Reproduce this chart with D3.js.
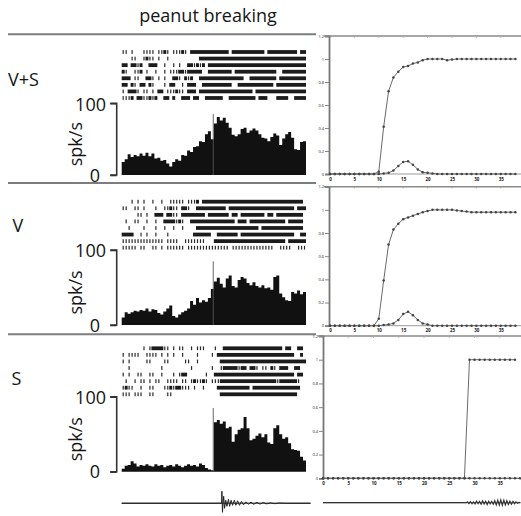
<!DOCTYPE html>
<html>
<head>
<meta charset="utf-8">
<script src="https://cdn.jsdelivr.net/npm/d3@7"></script>
<style>
  body { margin: 0; background: #fff; }
  svg { display: block; }
  text { font-family: "Open Sans", "Noto Sans", sans-serif; fill: #151515; }
</style>
</head>
<body>
<svg id="fig" width="521" height="516"></svg>
<script>
// ---- data ------------------------------------------------------------
const title = "peanut breaking";
const conditions = ["V+S", "V", "S"];

// firing rate histograms (spk/s), 62 bins each
const rateVS = [18,22,29,25,28,26,30,27,31,26, 30,23,24,20,21,16,12,18,22,20,
                28,27,34,32,39,40,47,46,57,61, 50,72,81,76,80,73,66,56,54,57,
                64,66,59,62,65,62,57,52,51,47, 53,58,55,42,51,57,60,52,36,35, 46,47];
const rateV  = [10,17,15,17,19,18,20,19,22,18, 21,20,16,14,18,22,26,12,10,14,
                17,19,22,32,27,36,30,33,31,36, 48,58,63,55,50,62,66,52,50,60,
                64,62,56,53,57,52,50,53,49,50, 47,64,66,42,37,33,32,44,42,46, 41,44];
const rateS  = [4,8,9,14,11,7,9,8,10,8, 7,10,8,9,6,8,9,7,10,8,
                6,8,10,8,9,7,11,9,5,3, 2,66,69,64,67,58,60,40,50,56,
                58,73,58,42,44,48,51,46,50,39, 37,58,62,50,44,46,38,30,29,28, 20,15];
const rateTicks = [0, 100];

// spike rasters, one string per trial, one character per bin
// '#' = burst filling the bin, '|' = single spike, ' ' = silent
const rasterVS = [
  "|| |   |||| ||#| |||#| ############# ########### ########## ##",
  "   ||  |#|| |  |          ####################################",
  "## ##|#  ###  |  | |  ##|#|# ##################################",
  "#|  ||# |  |  | |||##|#####  ######## ##############  ########",
  "### ||  ##| | |  ##| #|#  ###############  ######### #########",
  "## #| ## #|   | ##  | ###  ##########  ############ ##########",
  "| ###| || | ## |||#|| ### ################## #################",
  "|||# ##||#|#  ## #  ### ##  ######  ######### ###   ####  #####"
];
const rasterV = [
  "   | | |  |  |  ||||| |||# ##################################",
  "||  || |   |  ||#|| ##|  ########## ###################### ###",
  "     || |  ### ##|| ######## ####### ## ######## ## #########",
  " |  ||  |  |  ####|#|  ############### ### ############ #####",
  "  |    |   |  |  |  |    ##################### ##############",
  "####  | |  |   |        ######  ####### ##################  ##",
  "|||||||||||||| ||||  |||||||   ######################## ######",
  "||||| ||  || | |||||| |||||||||||||| ||||||||||||||  ||||  |||"
];
const rasterS = [
  "       | |####|| | ||  | |||   |  #################### ##  ## ",
  "| ||||  |||| | | |  |    |    | ##########################  #",
  "| |     ||    ||     ||  |       #############################",
  "  |          |         |      |  |#####|## ##| || #| ###  ##",
  "| |  ||  ||  |   | |##      |  ########################### ##",
  " |  | || | ||  |||| || |#||#| |||###################|######|",
  "|#||  |  ||   ||#|##||| |  |    ########### ################",
  "||| |||  ||    ||                ##########################"
];
const binCount = 62;
const eventBin = 30.8;      // contact / breaking onset
const eventRate = 85;       // height of the onset marker (spk/s)

// cumulative proportion curves (right column), one value per step
const cumVS  = [0,0,0,0,0,0,0,0,0,0, 0.02,0.41,0.72,0.84,0.89,0.93,0.94,0.96,0.97,0.99,
                1,1,1,1,0.99,0.995,1,1,1,1, 1,1,1,1,1,1,1,1,1];
const bumpVS = [0,0,0,0,0,0,0,0,0,0, 0,0.005,0.01,0.03,0.07,0.105,0.11,0.08,0.04,0.015,
                0.01,0.005,0,0,0,0,0,0,0,0, 0,0,0,0,0,0,0,0,0];
const cumV   = [0,0,0,0,0,0,0,0,0,0, 0.06,0.39,0.7,0.83,0.88,0.92,0.935,0.95,0.965,0.98,
                0.99,1,1,1,1,1,0.995,0.99,0.985,0.98, 0.98,0.98,0.98,0.98,0.98,0.98,0.98,0.98,0.98];
const bumpV  = [0,0,0,0,0,0,0,0,0,0, 0,0.005,0.01,0.02,0.05,0.1,0.12,0.09,0.05,0.02,
                0.01,0,0,0,0,0,0,0,0,0, 0,0,0,0,0,0,0,0,0];
const cumS   = [0,0,0,0,0,0,0,0,0,0, 0,0,0,0,0,0,0,0,0,0,
                0,0,0,0,0,0,0,0,0,1, 1,1,1,1,1,1,1,1,1];
const bumpS  = [0,0,0,0,0,0,0,0,0,0, 0,0,0,0,0,0,0,0,0,0,
                0,0,0,0,0,0,0,0,0,0, 0,0,0,0,0,0,0,0,0,0];
const propTicks = [0, 0.2, 0.4, 0.6, 0.8, 1, 1.2];
const propTickLabels = ["0", "0.2", "0.4", "0.6", "0.8", "1", "1.2"];
const stepTicks = [0, 5, 10, 15, 20, 25, 30, 35];

// vibration traces under the S condition: [time, amplitude]
const vibrationLeft = [[0,0],[33.6,0],[33.7,12],[33.9,-9],[34.1,0],[34.3,7],[34.6,-5],[35,3],
  [35.4,-3],[35.9,4],[36.3,-3],[36.8,3],[37.3,-2],[37.9,3],[38.4,-2],[39,2.5],[39.6,-2],
  [40.3,2],[41,-1.5],[41.8,1.5],[42.6,-1],[43.5,1.2],[44.4,-1],[45.5,1],[46.5,-0.8],
  [47.6,0.8],[48.8,-0.6],[50,0.5],[51.5,-0.4],[53,0.3],[55,0],[63.5,0]];
const vibrationRight = [[0,0],[28.4,0],[28.6,0.8],[28.9,-0.8],[29.2,1],[29.5,-1],[29.8,0.8],
  [30.1,-1.2],[30.4,1.5],[30.7,-1],[31,1.2],[31.3,-1.5],[31.6,1.8],[31.9,-1.2],[32.2,1.5],
  [32.5,-1.8],[32.8,1.5],[33.1,-1.2],[33.4,1.2],[33.7,-1.5],[34,2],[34.3,-2.2],[34.6,2.5],
  [34.9,-2.5],[35.2,2.8],[35.5,-2.6],[35.8,2.5],[36.1,-2.2],[36.4,2],[36.7,-1.8],[37,1.5],
  [37.3,-1.5],[37.6,1.2],[37.9,-1],[38.2,0.8],[38.5,-0.5],[38.8,0.3],[39,0]];

// ---- layout ----------------------------------------------------------
const rows = [
  { rate: rateVS, raster: rasterVS, cum: cumVS, bump: bumpVS,
    label: [8, 86], rasterY0: 52, histTop: 103.3, histBottom: 175,
    right: { x0: 330, x1: 515.4, n: 38, axisX: 329, top: 36, bottom: 174 } },
  { rate: rateV, raster: rasterV, cum: cumV, bump: bumpV,
    label: [12.5, 232], rasterY0: 201.7, histTop: 250, histBottom: 325,
    right: { x0: 330, x1: 515.4, n: 38, axisX: 329, top: 186.7, bottom: 325.7 } },
  { rate: rateS, raster: rasterS, cum: cumS, bump: bumpS,
    label: [11.5, 385], rasterY0: 348.3, histTop: 396.7, histBottom: 471.7,
    right: { x0: 323, x1: 520, n: 39, axisX: 323, top: 336, bottom: 478.3 } }
];
const rasterStep = 6.57;
const separatorsY = [34.3, 183, 334.3];

const svg = d3.select("#fig");
const xBin = d3.scaleLinear().domain([0, binCount]).range([121.7, 306]);

svg.append("text").attr("x", 208).attr("y", 22).attr("text-anchor", "middle")
  .style("font-size", "18px").text(title);

svg.selectAll("line.sep").data(separatorsY).join("line")
  .attr("class", "sep").attr("x1", 8).attr("x2", 316)
  .attr("y1", d => d).attr("y2", d => d)
  .attr("stroke", "#7d7d7d").attr("stroke-width", 2);

rows.forEach((r, k) => {
  const g = svg.append("g");

  // condition label
  g.append("text").attr("x", r.label[0]).attr("y", r.label[1])
    .style("font-size", "18px").text(conditions[k]);

  // raster
  r.raster.forEach((row, t) => {
    const cy = r.rasterY0 + t * rasterStep;
    const chars = row.padEnd(binCount, " ").slice(0, binCount).split("");
    const blocks = [];
    let i = 0;
    while (i < chars.length) {
      if (chars[i] === "#") {
        let j = i;
        while (j + 1 < chars.length && chars[j + 1] === "#") j++;
        blocks.push([i, j + 1]);
        i = j + 1;
      } else i++;
    }
    g.selectAll(null).data(blocks).join("rect")
      .attr("x", d => xBin(d[0])).attr("width", d => xBin(d[1]) - xBin(d[0]))
      .attr("y", cy - 1.9).attr("height", 3.8).attr("fill", "#1c1c1c");
    const ticks = chars.map((c, i) => c === "|" ? i : -1).filter(i => i >= 0);
    g.selectAll(null).data(ticks).join("rect")
      .attr("x", d => xBin(d + 0.5) - 0.6).attr("width", 1.2)
      .attr("y", cy - 1.9).attr("height", 3.8).attr("fill", "#2a2a2a");
  });

  // histogram (binned, drawn as steps)
  const yRate = d3.scaleLinear().domain([0, 100]).range([r.histBottom, r.histTop]);
  const pts = r.rate.map((v, i) => [i, v]).concat([[binCount, 0]]);
  g.append("path").datum(pts)
    .attr("d", d3.area().curve(d3.curveStepAfter)
      .x(d => xBin(d[0])).y0(r.histBottom).y1(d => yRate(d[1])))
    .attr("fill", "#111");
  g.append("line")
    .attr("x1", xBin(eventBin)).attr("x2", xBin(eventBin))
    .attr("y1", r.histBottom).attr("y2", yRate(eventRate))
    .attr("stroke", "#555").attr("stroke-width", 0.9);

  // rate axis (bracket style)
  const ax = g.append("g").attr("transform", "translate(116.7,0)")
    .call(d3.axisLeft(yRate).tickValues(rateTicks).tickSize(6.5).tickFormat(""));
  ax.select(".domain").attr("d", `M-6.5,${r.histTop}H0V${r.histBottom}H-6.5`)
    .attr("stroke", "#333").attr("stroke-width", 1.6).attr("fill", "none");
  ax.selectAll(".tick line").attr("stroke", "#333").attr("stroke-width", 1.6);
  g.append("text").attr("x", 106).attr("y", yRate(100) + 7.2).attr("text-anchor", "end")
    .style("font-size", "18px").text(rateTicks[1]);
  g.append("text").attr("x", 100).attr("y", yRate(0) + 6.5).attr("text-anchor", "end")
    .style("font-size", "18px").text(rateTicks[0]);
  g.append("text")
    .attr("transform", `translate(82,${(r.histTop + r.histBottom) / 2 + 5}) rotate(-90)`)
    .attr("text-anchor", "middle").style("font-size", "18px").text("spk/s");

  // right column: cumulative curves
  const R = r.right;
  const xs = d3.scaleLinear().domain([0, R.n]).range([R.x0, R.x1]);
  const yp = d3.scaleLinear().domain([0, 1.2]).range([R.bottom, R.top]);
  const rg = svg.append("g");
  rg.append("line").attr("x1", R.axisX - 5).attr("x2", 521)
    .attr("y1", R.top).attr("y2", R.top).attr("stroke", "#8a8a8a").attr("stroke-width", 1.6);
  rg.append("line").attr("x1", R.axisX).attr("x2", 521)
    .attr("y1", R.bottom).attr("y2", R.bottom).attr("stroke", "#9a9a9a").attr("stroke-width", 1);
  rg.selectAll(null).data(stepTicks).join("line")
    .attr("x1", d => xs(d)).attr("x2", d => xs(d))
    .attr("y1", R.top).attr("y2", R.top + 2).attr("stroke", "#aaa").attr("stroke-width", 0.8);
  const ya = rg.append("g").attr("transform", `translate(${R.axisX},0)`)
    .call(d3.axisLeft(yp).tickValues(propTicks).tickSize(4)
      .tickFormat((d, i) => propTickLabels[i]));
  ya.select(".domain").attr("stroke", "#777").attr("stroke-width", 1.8);
  ya.selectAll(".tick line").attr("stroke", "#888");
  ya.selectAll(".tick text").style("font-size", "4px").attr("fill", "#444").attr("x", -5);
  const xa = rg.append("g").attr("transform", `translate(0,${R.bottom})`)
    .call(d3.axisBottom(xs).tickValues(stepTicks).tickSize(0).tickPadding(3.5));
  xa.select(".domain").remove();
  xa.selectAll(".tick text").style("font-size", "4.5px").style("font-weight", "bold").attr("fill", "#333");

  [r.bump, r.cum].forEach(series => {
    const line = d3.line().x((d, i) => xs(i)).y(d => yp(d));
    rg.append("path").datum(series).attr("d", line)
      .attr("fill", "none").attr("stroke", "#6a6a6a").attr("stroke-width", 1);
    rg.selectAll(null).data(series).join("circle")
      .attr("cx", (d, i) => xs(i)).attr("cy", d => yp(d)).attr("r", 1.25)
      .attr("fill", "#444");
  });

  // vibration traces below the S condition
  if (k === 2) {
    const yv = d3.scaleLinear().domain([-10, 10]).range([513.3, 493.3]);
    svg.append("line").attr("x1", xBin(0)).attr("x2", xBin(63.5))
      .attr("y1", yv(0)).attr("y2", yv(0)).attr("stroke", "#666").attr("stroke-width", 1.4);
    svg.append("path").datum(vibrationLeft)
      .attr("d", d3.line().x(d => xBin(d[0])).y(d => yv(d[1])))
      .attr("fill", "none").attr("stroke", "#222").attr("stroke-width", 1);
    const yr = d3.scaleLinear().domain([-10, 10]).range([512.7, 492.7]);
    svg.append("line").attr("x1", 323).attr("x2", 521)
      .attr("y1", yr(0)).attr("y2", yr(0)).attr("stroke", "#999").attr("stroke-width", 1.2);
    svg.append("path").datum(vibrationRight)
      .attr("d", d3.line().x(d => xs(d[0])).y(d => yr(d[1])))
      .attr("fill", "none").attr("stroke", "#333").attr("stroke-width", 1.2);
  }
});
</script>
</body>
</html>
